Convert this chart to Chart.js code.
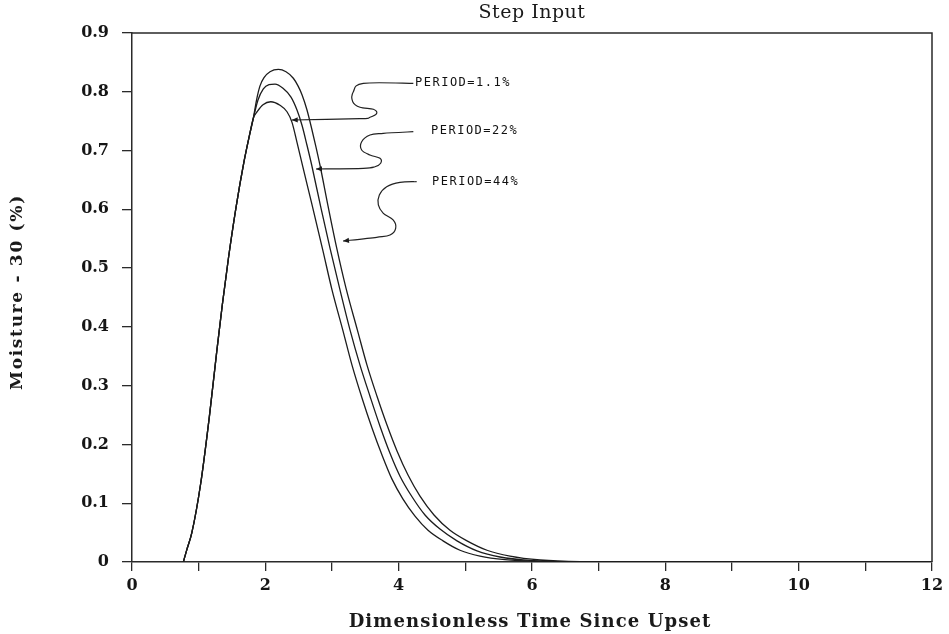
<!DOCTYPE html>
<html>
<head>
<meta charset="utf-8">
<script src="https://cdn.jsdelivr.net/npm/chart.js@4.4.1/dist/chart.umd.min.js"></script>
<style>
  html, body { margin: 0; padding: 0; background: #ffffff; }
  #wrap { width: 949px; height: 634px; }
</style>
</head>
<body>
<div id="wrap"><canvas id="chart" width="949" height="634"></canvas></div>
<script>
// Rising limb shared by all three responses (dimensionless time, moisture - 30 %)
const sharedTime     = [0.770, 0.825, 0.896, 1.031, 1.160, 1.271, 1.355, 1.448, 1.560, 1.680, 1.770, 1.820];
const sharedMoisture = [0.000, 0.022, 0.049, 0.134, 0.247, 0.358, 0.438, 0.518, 0.603, 0.681, 0.730, 0.755];

// PERIOD = 1.1 %
const period11Time     = [1.883, 1.965, 2.081, 2.220, 2.325, 2.400, 2.475, 2.561, 2.700, 2.861, 3.000, 3.161, 3.300, 3.450, 3.600, 3.750, 3.900, 4.065, 4.245, 4.440, 4.665, 4.920, 5.220, 5.595, 6.120, 7.020, 12];
const period11Moisture = [0.767, 0.778, 0.783, 0.777, 0.766, 0.748, 0.714, 0.673, 0.608, 0.531, 0.463, 0.395, 0.335, 0.279, 0.228, 0.182, 0.141, 0.107, 0.078, 0.054, 0.036, 0.020, 0.010, 0.004, 0.001, 0, 0];

// PERIOD = 22 %
const period22Time     = [1.890, 1.970, 2.055, 2.145, 2.265, 2.385, 2.475, 2.550, 2.625, 2.696, 2.835, 2.970, 3.120, 3.270, 3.420, 3.570, 3.720, 3.870, 4.020, 4.200, 4.395, 4.620, 4.875, 5.175, 5.520, 5.970, 6.570, 7.320, 12];
const period22Moisture = [0.786, 0.805, 0.812, 0.813, 0.806, 0.791, 0.769, 0.743, 0.709, 0.675, 0.602, 0.534, 0.463, 0.395, 0.335, 0.282, 0.231, 0.185, 0.146, 0.111, 0.080, 0.056, 0.036, 0.019, 0.0085, 0.0026, 0.0003, 0, 0];

// PERIOD = 44 %
const period44Time     = [1.868, 1.920, 1.980, 2.070, 2.195, 2.310, 2.420, 2.490, 2.550, 2.625, 2.700, 2.760, 2.820, 2.940, 3.071, 3.210, 3.380, 3.525, 3.675, 3.825, 3.975, 4.140, 4.320, 4.530, 4.770, 5.025, 5.325, 5.670, 6.120, 6.720, 7.620, 12];
const period44Moisture = [0.786, 0.810, 0.824, 0.834, 0.838, 0.834, 0.823, 0.810, 0.795, 0.769, 0.735, 0.706, 0.675, 0.606, 0.534, 0.466, 0.395, 0.335, 0.282, 0.233, 0.189, 0.148, 0.112, 0.080, 0.054, 0.036, 0.020, 0.010, 0.0034, 0.0005, 0, 0];

const seriesLabels = ['PERIOD=1.1%', 'PERIOD=22%', 'PERIOD=44%'];

// Axis ranges and tick steps
const xRange = [0, 12];
const yRange = [0, 0.9];
const xStep = 1;
const xLabelEvery = 2;
const yStep = 0.1;

const chartTitle = 'Step Input';
const xTitle = 'Dimensionless Time Since Upset';
const yTitle = 'Moisture - 30 (%)';

// Callout positions (data units): label anchor and the wavy leader that ends in an arrow
const calloutLabelTime     = [4.245, 4.485, 4.500];
const calloutLabelMoisture = [0.815, 0.733, 0.646];
const calloutPathTime = [
  [4.220, 3.470, 3.320, 3.311, 3.420, 3.620, 3.671, 3.570, 3.420, 2.396],
  [4.220, 3.770, 3.570, 3.445, 3.445, 3.570, 3.720, 3.730, 3.645, 3.470, 2.760],
  [4.270, 4.020, 3.820, 3.710, 3.695, 3.770, 3.920, 3.955, 3.870, 3.670, 3.165]
];
const calloutPathMoisture = [
  [0.8144, 0.8144, 0.8001, 0.7831, 0.7736, 0.7702, 0.7634, 0.7566, 0.7542, 0.7520],
  [0.7321, 0.7293, 0.7264, 0.7151, 0.7009, 0.6924, 0.6868, 0.6783, 0.6725, 0.6698, 0.6686],
  [0.6470, 0.6460, 0.6385, 0.6244, 0.6074, 0.5932, 0.5818, 0.5677, 0.5563, 0.5524, 0.5461]
];

function toPoints(times, values) {
  return times.map((t, i) => ({ x: t, y: values[i] }));
}
function curve(tailTime, tailMoisture) {
  return toPoints(sharedTime.concat(tailTime), sharedMoisture.concat(tailMoisture));
}

const INK = '#1c1c1c';

function lineDataset(label, data) {
  return {
    label: label,
    data: data,
    borderColor: INK,
    borderWidth: 1.3,
    pointRadius: 0,
    fill: false,
    cubicInterpolationMode: 'monotone'
  };
}

// Frame, titles and callouts drawn around the plot
const decorations = {
  id: 'decorations',
  afterDraw(chart) {
    const { ctx, chartArea: a, scales } = chart;
    const xs = scales.x, ys = scales.y;
    ctx.save();

    // top and right edges of the plot frame
    ctx.strokeStyle = '#2a2a2a';
    ctx.lineWidth = 1.5;
    ctx.beginPath();
    ctx.moveTo(a.left, a.top);
    ctx.lineTo(a.right, a.top);
    ctx.lineTo(a.right, a.bottom);
    ctx.stroke();

    // chart title
    ctx.fillStyle = '#1a1a1a';
    ctx.textAlign = 'center';
    ctx.textBaseline = 'middle';
    ctx.font = '19px "DejaVu Serif"';
    ctx.letterSpacing = '0.5px';
    ctx.fillText(chartTitle, (a.left + a.right) / 2, 13);

    // x-axis title
    ctx.font = 'bold 18px "DejaVu Serif"';
    ctx.letterSpacing = '1.1px';
    ctx.fillText(xTitle, (a.left + a.right) / 2 - 2, 622);

    // y-axis title (rotated)
    ctx.save();
    ctx.translate(18, 292);
    ctx.rotate(-Math.PI / 2);
    ctx.font = 'bold 17px "DejaVu Serif"';
    ctx.letterSpacing = '1.7px';
    ctx.fillText(yTitle, 0, 0);
    ctx.restore();
    ctx.letterSpacing = '0px';

    // callouts
    ctx.font = '12px "DejaVu Sans Mono"';
    ctx.letterSpacing = '1.5px';
    ctx.textAlign = 'left';
    ctx.textBaseline = 'middle';
    for (let k = 0; k < seriesLabels.length; k++) {
      const lx = xs.getPixelForValue(calloutLabelTime[k]);
      const ly = ys.getPixelForValue(calloutLabelMoisture[k]);
      ctx.fillStyle = '#111';
      ctx.fillText(seriesLabels[k], lx, ly);

      const pts = calloutPathTime[k].map((t, i) => ({
        x: xs.getPixelForValue(t),
        y: ys.getPixelForValue(calloutPathMoisture[k][i])
      }));
      ctx.strokeStyle = '#222';
      ctx.lineWidth = 1.2;
      ctx.beginPath();
      ctx.moveTo(pts[0].x, pts[0].y);
      for (let i = 0; i < pts.length - 1; i++) {
        const p0 = pts[i - 1] || pts[i];
        const p1 = pts[i];
        const p2 = pts[i + 1];
        const p3 = pts[i + 2] || p2;
        ctx.bezierCurveTo(
          p1.x + (p2.x - p0.x) / 6, p1.y + (p2.y - p0.y) / 6,
          p2.x - (p3.x - p1.x) / 6, p2.y - (p3.y - p1.y) / 6,
          p2.x, p2.y
        );
      }
      ctx.stroke();

      // arrow head at the end of the leader
      const tip = pts[pts.length - 1];
      const prev = pts[pts.length - 2];
      const ang = Math.atan2(tip.y - prev.y, tip.x - prev.x);
      const len = 6, half = 2.6;
      ctx.fillStyle = '#1a1a1a';
      ctx.beginPath();
      ctx.moveTo(tip.x, tip.y);
      ctx.lineTo(tip.x - len * Math.cos(ang) + half * Math.sin(ang), tip.y - len * Math.sin(ang) - half * Math.cos(ang));
      ctx.lineTo(tip.x - len * Math.cos(ang) - half * Math.sin(ang), tip.y - len * Math.sin(ang) + half * Math.cos(ang));
      ctx.closePath();
      ctx.fill();
    }
    ctx.letterSpacing = '0px';
    ctx.restore();
  }
};

new Chart(document.getElementById('chart'), {
  type: 'line',
  data: {
    datasets: [
      lineDataset(seriesLabels[0], curve(period11Time, period11Moisture)),
      lineDataset(seriesLabels[1], curve(period22Time, period22Moisture)),
      lineDataset(seriesLabels[2], curve(period44Time, period44Moisture))
    ]
  },
  options: {
    responsive: false,
    animation: false,
    devicePixelRatio: 1,
    layout: { padding: { left: 0, right: 17, top: 33, bottom: 0 } },
    plugins: {
      legend: { display: false },
      tooltip: { enabled: false },
      title: { display: false }
    },
    scales: {
      x: {
        type: 'linear',
        min: xRange[0],
        max: xRange[1],
        afterFit(scale) { scale.height = 72; },
        border: { display: true, color: '#2a2a2a', width: 1.5 },
        grid: { drawOnChartArea: false, drawTicks: true, tickLength: 9, color: '#2a2a2a', lineWidth: 1.3 },
        ticks: {
          stepSize: xStep,
          autoSkip: false,
          maxRotation: 0,
          padding: 5,
          color: '#151515',
          font: { family: '"DejaVu Serif"', size: 16, weight: 'bold' },
          callback: (v) => (v % xLabelEvery === 0 ? String(v) : '')
        }
      },
      y: {
        type: 'linear',
        min: yRange[0],
        max: yRange[1],
        afterFit(scale) { scale.width = 132; },
        border: { display: true, color: '#2a2a2a', width: 1.5 },
        grid: { drawOnChartArea: false, drawTicks: true, tickLength: 10, color: '#2a2a2a', lineWidth: 1.3 },
        ticks: {
          stepSize: yStep,
          padding: 13,
          color: '#151515',
          font: { family: '"DejaVu Serif"', size: 16, weight: 'bold' },
          callback: (v) => (Math.abs(v) < 1e-9 ? '0' : Number(v).toFixed(1))
        }
      }
    }
  },
  plugins: [decorations]
});
</script>
</body>
</html>
